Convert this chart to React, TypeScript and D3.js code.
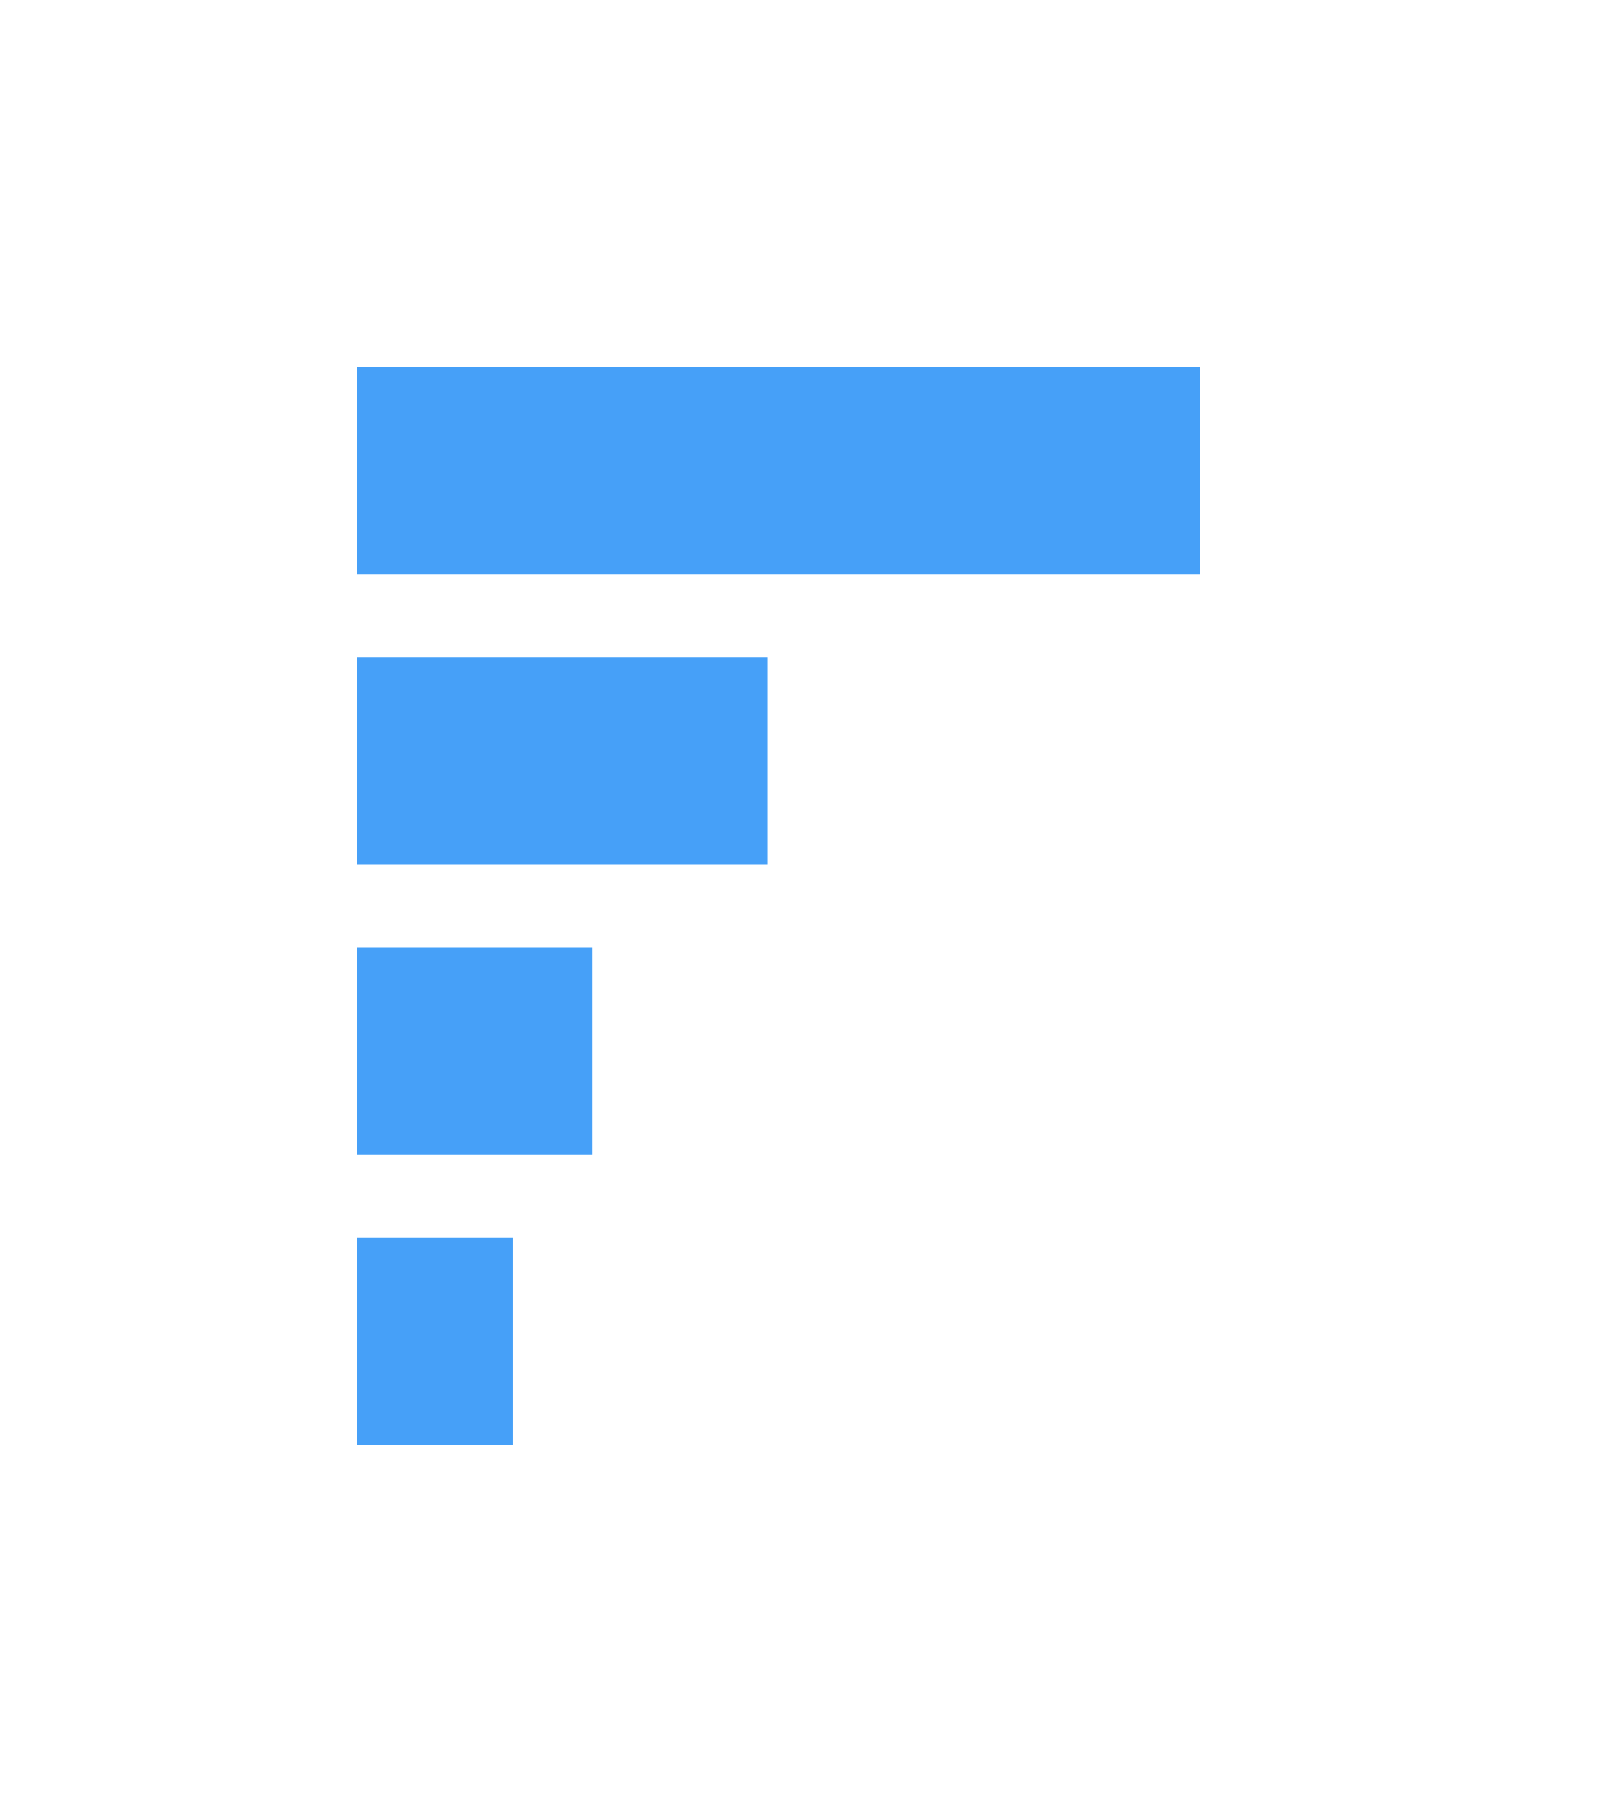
import React from "react";
import * as d3 from "d3";

const categories: string[] = ["A", "B", "C", "D"];
const values: number[] = [100, 48.7, 27.9, 18.5];

const WIDTH = 1618;
const HEIGHT = 1800;
const BAR_COLOR = "#46a0f8";

export default function App() {
  const x = d3.scaleLinear().domain([0, 100]).range([357, 1200]);
  const y = d3
    .scaleBand<string>()
    .domain(categories)
    .range([325.5, 1486.5])
    .paddingInner(0.286)
    .paddingOuter(0.143);

  return (
    <svg
      width={WIDTH}
      height={HEIGHT}
      style={{ position: "absolute", left: 0, top: 0, display: "block", background: "#ffffff" }}
    >
      <rect x={0} y={0} width={WIDTH} height={HEIGHT} fill="#ffffff" />
      {categories.map((c, i) => (
        <rect
          key={c}
          x={x(0)}
          y={y(c)}
          width={x(values[i]) - x(0)}
          height={y.bandwidth()}
          fill={BAR_COLOR}
        />
      ))}
    </svg>
  );
}
